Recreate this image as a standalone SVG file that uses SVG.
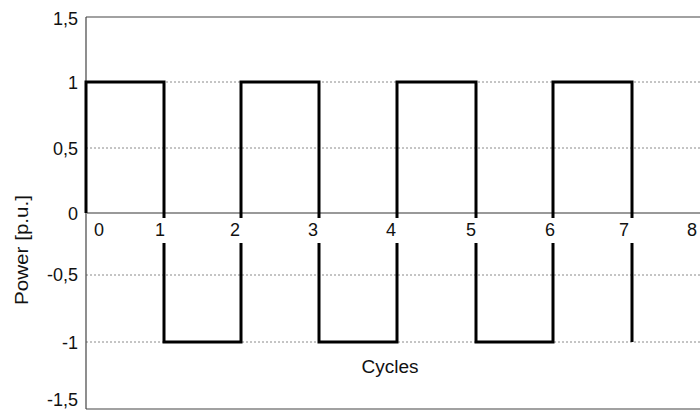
<svg xmlns="http://www.w3.org/2000/svg" width="700" height="412" viewBox="0 0 700 412">
<style>
text{font-family:"Liberation Sans",Arial,sans-serif;font-size:18px;fill:#111}
.yl{text-anchor:end}
.xl{text-anchor:middle}
.grid{stroke:#8a8a8a;stroke-width:1;stroke-dasharray:2 2;fill:none}
.frame{stroke:#444;stroke-width:1.2;fill:none}
.wave{stroke:#000;stroke-width:3;fill:none;stroke-linejoin:miter}
</style>
<rect width="700" height="412" fill="#fff"/>
<g id="grid">
<line class="grid" x1="86" y1="82" x2="700" y2="82"/>
<line class="grid" x1="86" y1="148" x2="700" y2="148"/>
<line class="grid" x1="86" y1="275" x2="700" y2="275"/>
<line class="grid" x1="86" y1="342" x2="700" y2="342"/>
</g>
<g id="frame">
<line class="frame" x1="86" y1="17" x2="700" y2="17"/>
<line class="frame" x1="86" y1="409" x2="700" y2="409"/>
<line class="frame" x1="86" y1="17" x2="86" y2="409"/>
<line x1="86" y1="213" x2="700" y2="213" stroke="#999" stroke-width="2"/>
</g>
<g id="waveform">
<path class="wave" d="M86,213 V82 H164 V218 M164,243 V342 H241 V243 M241,218 V82 H319 V218 M319,243 V342 H397 V243 M397,218 V82 H476 V218 M476,243 V342 H553 V243 M553,218 V82 H632 V218 M632,243 V342"/>
</g>
<g id="y-labels">
<text class="yl" x="78" y="25">1,5</text>
<text class="yl" x="78" y="89">1</text>
<text class="yl" x="78" y="155">0,5</text>
<text class="yl" x="78" y="220">0</text>
<text class="yl" x="78" y="281">-0,5</text>
<text class="yl" x="78" y="349">-1</text>
<text class="yl" x="78" y="406">-1,5</text>
</g>
<g id="x-labels">
<text class="xl" x="99" y="236">0</text>
<text class="xl" x="160" y="236">1</text>
<text class="xl" x="235" y="236">2</text>
<text class="xl" x="313" y="236">3</text>
<text class="xl" x="391" y="236">4</text>
<text class="xl" x="471" y="236">5</text>
<text class="xl" x="550" y="236">6</text>
<text class="xl" x="624" y="236">7</text>
<text class="xl" x="692" y="236">8</text>
</g>
<g id="axis-titles">
<text class="xl" x="390" y="373" textLength="57" lengthAdjust="spacingAndGlyphs">Cycles</text>
<text class="xl" transform="translate(28,250) rotate(-90)" textLength="110" lengthAdjust="spacingAndGlyphs">Power [p.u.]</text>
</g>
</svg>
